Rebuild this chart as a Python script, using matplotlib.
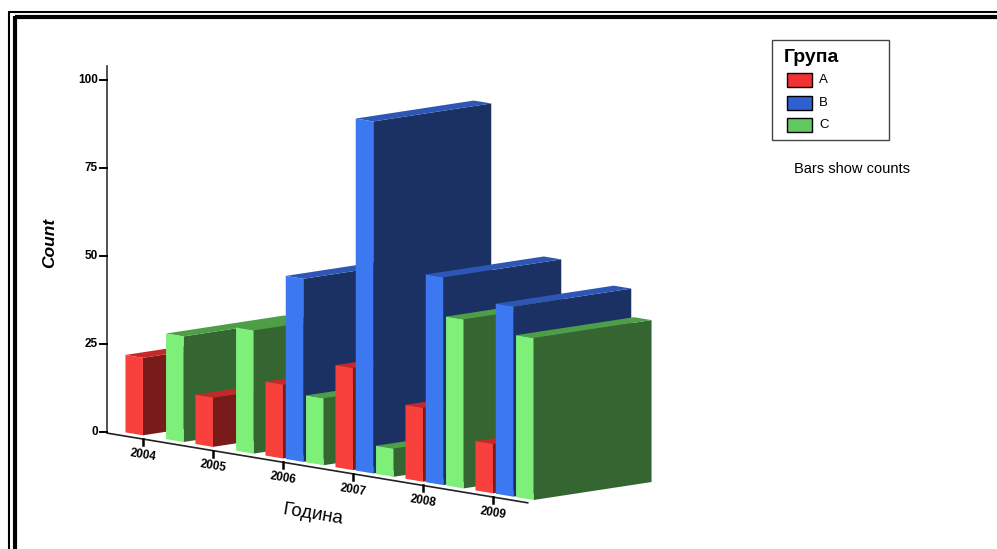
import matplotlib
matplotlib.use('Agg')
import matplotlib.pyplot as plt
from matplotlib.patches import Polygon, Rectangle

plt.rcParams['font.family'] = ['Liberation Sans', 'DejaVu Sans']

# counts per year and group
years = ['2004', '2005', '2006', '2007', '2008', '2009']
group_names = ['A', 'B', 'C']
counts_a = [22, 14, 21, 29, 21, 14]
counts_b = [0, 0, 52, 100, 59, 54]
counts_c = [30, 35, 19, 8, 48, 46]
y_ticks = [0, 25, 50, 75, 100]

# face colours: front, side, top
face_colors = {
    'A': ('#f8403c', '#7a1b1b', '#c42828'),
    'B': ('#3c78f0', '#1b3163', '#2d56b5'),
    'C': ('#7ef07a', '#356530', '#4e9e48'),
}
legend_colors = {'A': '#f03232', 'B': '#2f5fd0', 'C': '#62c862'}

# oblique projection of (category, depth, value) onto the canvas
X0, Y0 = 142.7, 439.0
STEP_X, STEP_Y = 70.0, 11.6
DEPTH_X, DEPTH_Y = 118.0, -18.0
PX_PER_UNIT = 3.52


def proj(u, z, v):
    return (X0 + STEP_X * u + DEPTH_X * z,
            Y0 + STEP_Y * u + DEPTH_Y * z - PX_PER_UNIT * v)


fig = plt.figure(figsize=(9.97, 5.49), dpi=100)
ax = fig.add_axes([0, 0, 1, 1])
ax.set_xlim(0, 997)
ax.set_ylim(549, 0)
ax.axis('off')

bar_w = 0.25
bar_step = 0.29
z0, z1 = 0.1, 1.1

series = [counts_a, counts_b, counts_c]
for i in range(len(years)):
    for j, name in enumerate(group_names):
        v = series[j][i]
        if v <= 0:
            continue
        c = i + (j - 1) * bar_step
        u0, u1 = c - bar_w / 2, c + bar_w / 2
        front, side, top = face_colors[name]
        ax.add_patch(Polygon([proj(u1, z0, 0), proj(u1, z1, 0),
                              proj(u1, z1, v), proj(u1, z0, v)],
                             closed=True, fc=side, ec='none'))
        ax.add_patch(Polygon([proj(u0, z0, v), proj(u1, z0, v),
                              proj(u1, z1, v), proj(u0, z1, v)],
                             closed=True, fc=top, ec='none'))
        ax.add_patch(Polygon([proj(u0, z0, 0), proj(u1, z0, 0),
                              proj(u1, z0, v), proj(u0, z0, v)],
                             closed=True, fc=front, ec='none'))

# category axis along the front edge of the floor
p_start = proj(-0.51, 0, 0)
p_end = proj(len(years) - 0.5, 0, 0)
ax.plot([p_start[0], p_end[0]], [p_start[1], p_end[1]], color='#222222', lw=1.2)
for i, yr in enumerate(years):
    tx, ty = proj(i, 0, 0)
    ax.plot([tx, tx], [ty, ty + 6], color='black', lw=1.8)
    ax.text(tx, ty + 16, yr, fontsize=8.5, fontweight='bold',
            rotation=-9.4, ha='center', va='center')

# value axis
ax_x = p_start[0]
base_y = p_start[1] - 1.5
ax.plot([ax_x, ax_x], [base_y, base_y - 104 * PX_PER_UNIT], color='#333333', lw=1.2)
for t in y_ticks:
    yy = base_y - t * PX_PER_UNIT
    ax.plot([ax_x - 7, ax_x], [yy, yy], color='black', lw=1.4)
    ax.text(ax_x - 9, yy, str(t), fontsize=8.5, fontweight='bold',
            ha='right', va='center')

ax.text(50, 243, 'Count', fontsize=12.5, fontstyle='italic', fontweight='bold',
        rotation=90, ha='center', va='center')
ax.text(313, 515, 'Година', fontsize=13.5, rotation=-9.4,
        ha='center', va='center')

# legend
ax.add_patch(Rectangle((772, 40), 117, 100, fc='white', ec='#444444', lw=1.0))
ax.text(784, 58, 'Група', fontsize=14, fontweight='bold', ha='left', va='center')
for k, name in enumerate(group_names):
    yy = 73 + k * 22.5
    ax.add_patch(Rectangle((787, yy), 25, 14, fc=legend_colors[name], ec='black', lw=1.0))
    ax.text(819, yy + 7, name, fontsize=9.5, ha='left', va='center')

ax.text(794, 169, 'Bars show counts', fontsize=10.5, ha='left', va='center')

# double frame along top and left
ax.plot([9, 997], [11.5, 11.5], color='black', lw=1.5, solid_capstyle='butt')
ax.plot([9, 9], [11, 549], color='black', lw=1.5, solid_capstyle='butt')
ax.plot([15, 997], [17, 17], color='black', lw=3.0, solid_capstyle='butt')
ax.plot([15, 15], [15.5, 549], color='black', lw=3.0, solid_capstyle='butt')

fig.savefig('out.png', dpi=100)
